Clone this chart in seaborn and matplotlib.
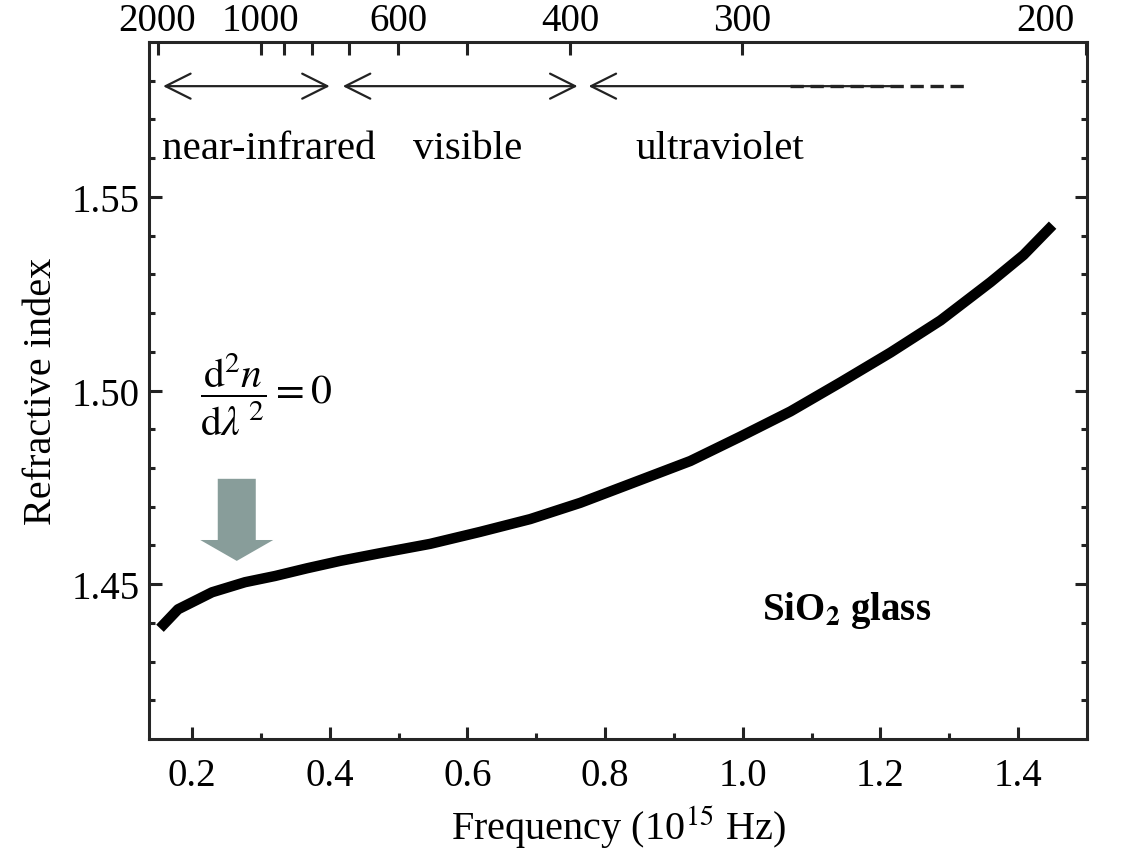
import numpy as np
import pandas as pd
import matplotlib
matplotlib.use("Agg")
import matplotlib.pyplot as plt
import matplotlib.transforms as mtransforms
import seaborn as sns

# refractive index of SiO2 glass vs frequency (10^15 Hz)
freq = [0.1535, 0.1797, 0.2291, 0.2770, 0.3206, 0.3672, 0.4151, 0.4733,
        0.5459, 0.6186, 0.6913, 0.7640, 0.8366, 0.9238, 0.9965, 1.0692,
        1.1419, 1.2145, 1.2872, 1.3599, 1.4078, 1.4500]
n_index = [1.4386, 1.4435, 1.4479, 1.4505, 1.4521, 1.4541, 1.4560, 1.4580,
           1.4604, 1.4635, 1.4668, 1.4710, 1.4759, 1.4818, 1.4881, 1.4946,
           1.5021, 1.5098, 1.5181, 1.5280, 1.5350, 1.5427]

# top axis: wavelength in nm
wavelengths = [2000, 1000, 900, 800, 700, 600, 500, 400, 300, 200]
wl_labels = ["2000", "1000", "", "", "", "600", "", "400", "300", "200"]

# spectral regions (frequency range of the arrows)
regions = ["near-infrared", "visible", "ultraviolet"]
region_start = [0.158, 0.419, 0.776]
region_end = [0.400, 0.760, 1.220]
region_label_x = [0.312, 0.600, 0.967]

df = pd.DataFrame({"freq": freq, "n": n_index})

sns.set_theme(style="ticks")
plt.rcParams["font.family"] = ["Liberation Serif", "DejaVu Serif"]
plt.rcParams["mathtext.fontset"] = "stix"
plt.rcParams["axes.linewidth"] = 2.2
plt.rcParams["text.color"] = "black"
plt.rcParams["axes.labelcolor"] = "black"

fig = plt.figure(figsize=(11.21, 8.62), dpi=100)
ax = fig.add_axes([0.1329, 0.1415, 0.8368, 0.8086])

sns.lineplot(data=df, x="freq", y="n", color="black", linewidth=7.5, ax=ax)
ax.lines[0].set_solid_capstyle("butt")
ax.lines[0].set_solid_joinstyle("round")

ax.set_xlim(0.1375, 1.50)
ax.set_ylim(1.41, 1.59)
ax.set_xticks([0.2, 0.4, 0.6, 0.8, 1.0, 1.2, 1.4])
ax.set_xticklabels(["0.2", "0.4", "0.6", "0.8", "1.0", "1.2", "1.4"])
ax.set_xticks([0.3, 0.5, 0.7, 0.9, 1.1, 1.3], minor=True)
ax.set_yticks([1.45, 1.50, 1.55])
ax.set_yticklabels(["1.45", "1.50", "1.55"])
ax.set_yticks([1.42, 1.43, 1.44, 1.46, 1.47, 1.48, 1.49, 1.51, 1.52, 1.53,
               1.54, 1.56, 1.57, 1.58], minor=True)
ax.tick_params(which="both", direction="in", width=2.2, colors="#222222",
               labelcolor="black", labelsize=28, top=False, right=True)
ax.tick_params(which="major", length=9)
ax.tick_params(which="minor", length=4.5)
ax.tick_params(axis="x", which="major", pad=13)
ax.tick_params(axis="y", which="major", pad=7)
ax.set_xlabel("Frequency (10$^{15}$ Hz)", fontsize=29, labelpad=6)
ax.set_ylabel("Refractive index", fontsize=29, labelpad=8)

# wavelength axis on top
ax2 = ax.twiny()
ax2.set_xlim(ax.get_xlim())
wl_pos = [299.79 / w for w in wavelengths]
ax2.set_xticks(wl_pos)
ax2.set_xticklabels(wl_labels)
ax2.tick_params(direction="in", length=9, width=2.2, colors="#222222",
                labelcolor="black", labelsize=28, pad=2)
for sp in ax2.spines.values():
    sp.set_visible(False)
last = ax2.get_xticklabels()[-1]
last.set_horizontalalignment("right")
last.set_transform(last.get_transform() +
                   mtransforms.ScaledTranslation(-0.12, 0, fig.dpi_scale_trans))

# region arrows and names
arrow_y = 1.5786
for name, x0, x1, xl in zip(regions, region_start, region_end, region_label_x):
    style = "<->" if name != "ultraviolet" else "<-"
    ax.annotate("", xy=(x1, arrow_y), xytext=(x0, arrow_y),
                arrowprops=dict(arrowstyle=style + ",head_length=0.9,head_width=0.45",
                                color="#222222", lw=1.6, shrinkA=0, shrinkB=0,
                                mutation_scale=20))
    ax.text(xl, 1.5625, name, fontsize=29.5, ha="center", va="center")
ax.plot([1.069, 1.326], [arrow_y, arrow_y], color="#222222", lw=2.4,
        linestyle=(0, (4, 2)))

# inflection annotation
ax.text(0.308, 1.4992, r"$\dfrac{\mathrm{d}^2 n}{\mathrm{d}\lambda^{\,2}} = 0$",
        fontsize=30, ha="center", va="center")
ax.arrow(0.265, 1.4772, 0, -0.0212, width=0.0552, head_width=0.106,
         head_length=0.0054, length_includes_head=True, color="#889d9a",
         linewidth=0)

ax.text(1.1506, 1.4435, r"SiO$_\mathbf{2}$ glass", fontsize=28,
        fontweight="bold", ha="center", va="center")

fig.savefig("out.png", dpi=100)
